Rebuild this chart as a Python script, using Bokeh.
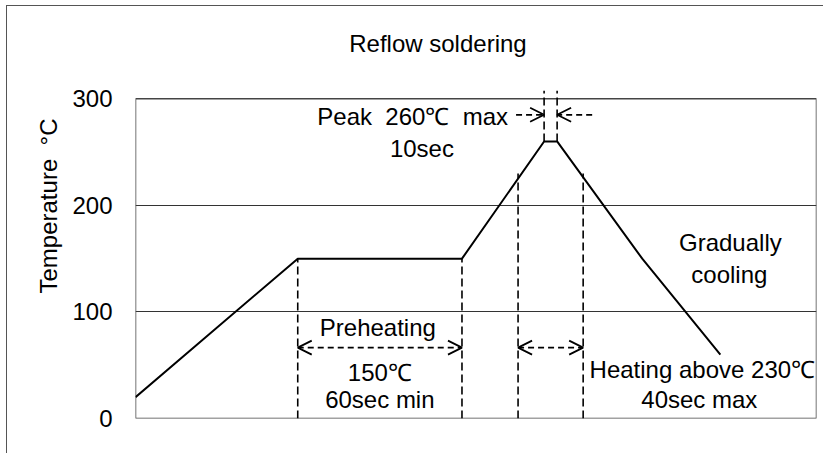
import math
from bokeh.plotting import figure
from bokeh.models import Range1d, Label, Arrow, OpenHead, FixedTicker, Title
from bokeh.embed import file_html
from bokeh.resources import INLINE

# ---- data (schematic reflow profile) ----
time_s = [0, 81, 163, 204, 210.5, 253, 292]
temp_c = [20, 150, 150, 260, 260, 150, 60]

y_ticks = [0, 100, 200, 300]
x_span = [0, 340]
y_top = 300

preheat_x = [81, 163]          # preheating zone
preheat_temp = 150
above230_x = [191, 223.5]      # time above 230 C
above230_temp = 230
peak_x = [204, 210.5]          # peak zone
peak_temp = 260

NB = "\u00a0"
title_text = "Reflow soldering"
ylabel_text = "Temperature" + NB + NB + "°C"
peak_texts = ["Peak" + NB + NB + "260℃" + NB + NB + "max", "10sec"]
preheat_texts = ["Preheating", "150℃", "60sec min"]
cool_texts = ["Gradually", "cooling"]
heat_texts = ["Heating above 230℃", "40sec max"]

FONT = "Liberation Sans"
FS = "24px"

p = figure(width=817, height=448, output_backend="svg", toolbar_location=None,
           x_range=Range1d(x_span[0], x_span[1]), y_range=Range1d(0, 366), x_axis_type=None,
           min_border_left=128, min_border_right=8, min_border_top=22, min_border_bottom=36)
p.styles = {"margin-left": "6px", "margin-top": "5px",
            "border-left": "1px solid #555", "border-top": "1px solid #555"}
p.outline_line_color = None
p.background_fill_color = "white"
p.border_fill_color = "white"
p.title.text = ""
p.title.visible = False

p.add_layout(Title(text=ylabel_text, align="left", offset=125, standoff=16, text_color="black",
                   text_font=FONT, text_font_size=FS, text_font_style="normal"), "left")

p.xgrid.visible = False
p.ygrid.ticker = FixedTicker(ticks=[100, 200])
p.ygrid.grid_line_color = "#333"
p.ygrid.grid_line_width = 1

ax = p.yaxis[0]
ax.ticker = FixedTicker(ticks=y_ticks)
ax.axis_line_color = None
ax.major_tick_line_color = None
ax.minor_tick_line_color = None
ax.major_tick_out = 0
ax.major_tick_in = 0
ax.major_label_standoff = 23
ax.major_label_text_font = FONT
ax.major_label_text_font_size = FS
ax.major_label_text_color = "black"

# plot box (0..300)
p.quad(left=x_span[0], right=x_span[1], bottom=0, top=y_top, fill_color=None,
       line_color="#444", line_width=1.5)

# profile line
p.line(time_s, temp_c, line_color="black", line_width=2)

# dashed verticals
vx = preheat_x + above230_x + peak_x
vy0 = [0, 0, 0, 0, peak_temp, peak_temp]
vy1 = [preheat_temp, preheat_temp, above230_temp, above230_temp, 307.5, 307.5]
p.segment(x0=vx, y0=vy0, x1=vx, y1=vy1, line_color="black", line_width=1.6, line_dash="8 4")

def head():
    return OpenHead(size=14, line_width=1.8, line_color="black")

# double arrows
arrow_y = 66.5
p.add_layout(Arrow(start=head(), end=head(), x_start=preheat_x[0], y_start=arrow_y,
                   x_end=preheat_x[1], y_end=arrow_y, line_width=1.8, line_dash="6 4"))
p.add_layout(Arrow(start=head(), end=head(), x_start=above230_x[0], y_start=arrow_y,
                   x_end=above230_x[1], y_end=arrow_y, line_width=1.8, line_dash="6 4"))
# peak arrows
peak_arrow_y = 285
p.add_layout(Arrow(end=head(), x_start=190, y_start=peak_arrow_y, x_end=peak_x[0], y_end=peak_arrow_y,
                   line_width=1.8, line_dash="6 4"))
p.add_layout(Arrow(end=head(), x_start=228, y_start=peak_arrow_y, x_end=peak_x[1], y_end=peak_arrow_y,
                   line_width=1.8, line_dash="6 4"))

def lab(x, y, t, align="center"):
    p.add_layout(Label(x=x, y=y, text=t, text_align=align, text_baseline="middle",
                       text_font=FONT, text_font_size=FS, text_color="black"))

lab(151, 351.5, title_text)
lab(186, 283, peak_texts[0], align="right")
lab(143, 253, peak_texts[1])
lab(121, 85, preheat_texts[0])
lab(122, 43, preheat_texts[1])
lab(122, 18, preheat_texts[2])
lab(297, 165, cool_texts[0])
lab(296.5, 135, cool_texts[1])
lab(283, 46, heat_texts[0])
lab(281.5, 18, heat_texts[1])

open("out.html", "w").write(file_html(p, INLINE))
